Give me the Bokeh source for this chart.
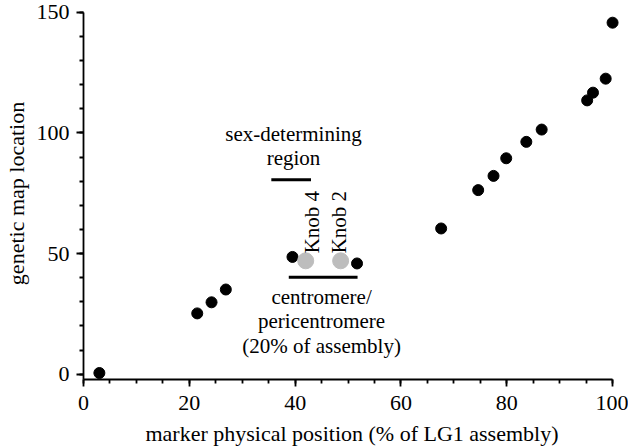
import math
from bokeh.plotting import figure
from bokeh.models import Range1d, FixedTicker, Label
from bokeh.embed import file_html
from bokeh.resources import INLINE

# ---- data ----
marker_pos = [3.0, 21.5, 24.2, 26.9, 39.5, 51.7, 67.6, 74.6, 77.5, 79.9, 83.7, 86.6, 95.2, 96.3, 98.7, 100.0]
map_loc = [0.5, 25.2, 29.8, 35.1, 48.6, 45.9, 60.4, 76.3, 82.2, 89.5, 96.3, 101.4, 113.5, 116.7, 122.5, 145.7]

knob_pos = [42.0, 48.6]
knob_loc = [47.0, 47.0]
knob_names = ["Knob 4", "Knob 2"]

region_x0 = [35.5, 38.8]
region_x1 = [43.0, 51.8]
region_y = [80.6, 40.2]

x_ticks = [0, 20, 40, 60, 80, 100]
x_minor = list(range(0, 101, 5))
y_ticks = [0, 50, 100, 150]
y_minor = list(range(0, 151, 10))

FONT = "Liberation Serif"
AX_FS = "22px"
AN_FS = "21px"

p = figure(
    frame_width=537, frame_height=372,
    x_range=Range1d(0, 101.5), y_range=Range1d(-2.2, 152.0),
    output_backend="svg", toolbar_location=None,
    min_border_left=81, min_border_right=8, min_border_top=7, min_border_bottom=0,
)
p.grid.visible = False
p.outline_line_color = None
p.background_fill_color = "white"
p.border_fill_color = "white"

p.xaxis.bounds = (0, 100)
p.yaxis.bounds = (-2.2, 150)
p.xaxis.ticker = FixedTicker(ticks=x_ticks, minor_ticks=x_minor)
p.yaxis.ticker = FixedTicker(ticks=y_ticks, minor_ticks=y_minor)

for ax in (p.xaxis, p.yaxis):
    ax.axis_line_width = 1.8
    ax.axis_line_color = "black"
    ax.major_tick_line_width = 1.8
    ax.minor_tick_line_width = 1.8
    ax.major_tick_line_color = "black"
    ax.minor_tick_line_color = "black"
    ax.major_tick_in = 0
    ax.major_tick_out = 7
    ax.minor_tick_in = 0
    ax.minor_tick_out = 4
    ax.major_label_text_font = FONT
    ax.major_label_text_font_size = AX_FS
    ax.major_label_text_color = "black"
    ax.major_label_text_line_height = 1.0
    ax.axis_label_text_font = FONT
    ax.axis_label_text_font_size = AX_FS
    ax.axis_label_text_font_style = "normal"
    ax.axis_label_text_color = "black"
    ax.axis_label_text_line_height = 1.0

p.xaxis.axis_label = "marker physical position (% of LG1 assembly)"
p.yaxis.axis_label = "genetic map location"
p.xaxis.major_label_standoff = 9
p.xaxis.axis_label_standoff = 8
p.yaxis.major_label_standoff = 7
p.yaxis.axis_label_standoff = 5

# data points
p.scatter(marker_pos, map_loc, size=11, color="black")
p.scatter(knob_pos, knob_loc, size=16, color="#bdbdbd")

# region bars
p.segment(x0=region_x0, y0=region_y, x1=region_x1, y1=region_y, line_width=3, line_color="black")

def lab(text, x, y, align="center", angle=0.0):
    p.add_layout(Label(x=x, y=y, text=text, text_font=FONT, text_font_size=AN_FS,
                       text_color="black", text_align=align, text_baseline="alphabetic",
                       angle=angle))

# annotations
lab("sex-determining", 39.7, 99.4)
lab("region", 39.7, 89.7)
lab("centromere/", 45.0, 31.9)
lab("pericentromere", 45.0, 22.0)
lab("(20% of assembly)", 45.0, 11.6)
lab(knob_names[0], 43.15, 50.1, align="left", angle=math.pi / 2)
lab(knob_names[1], 48.2, 50.1, align="left", angle=math.pi / 2)

open("out.html", "w").write(file_html(p, INLINE))
